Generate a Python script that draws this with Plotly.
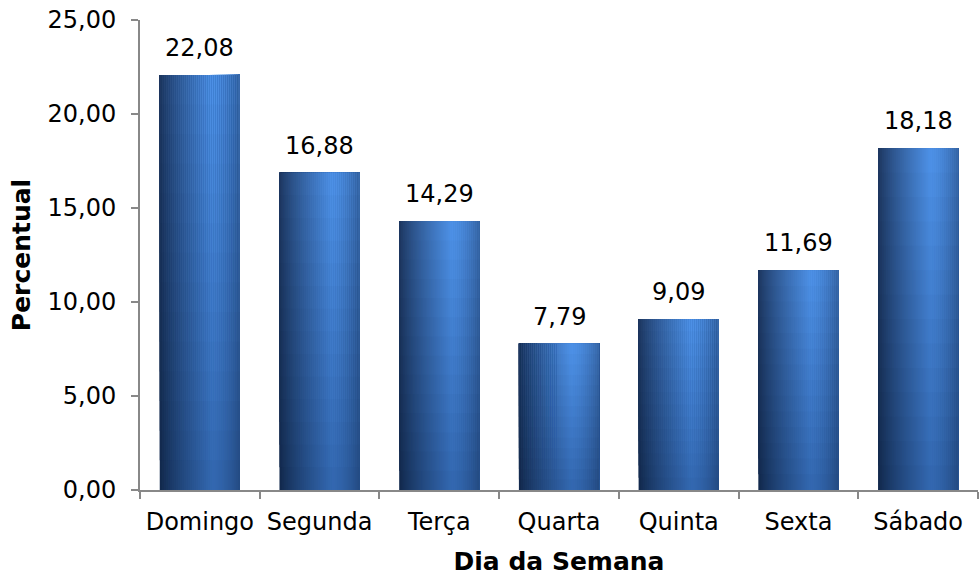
import plotly.graph_objects as go

categories = ["Domingo", "Segunda", "Terça", "Quarta", "Quinta", "Sexta", "Sábado"]
values = [22.08, 16.88, 14.29, 7.79, 9.09, 11.69, 18.18]
y_ticks = [0, 5, 10, 15, 20, 25]

FONT = "DejaVu Sans, Verdana, sans-serif"
BAR_W = 0.67
N_SLICES = 40
N_PIECES = 14


def lerp(a, b, t):
    return a + (b - a) * t


def h_profile(t):
    # brightness across the bar: dark left, bright at ~0.65, slightly dark right
    if t < 0.65:
        return lerp(0.0, 1.0, (t / 0.65) ** 0.8)
    return lerp(1.0, 0.55, ((t - 0.65) / 0.35) ** 1.6)


dark_top = (28, 52, 92)
bright_top = (78, 146, 232)
dark_bot = (16, 38, 72)
bright_bot = (50, 102, 174)


def color(t, v):
    b = h_profile(t)
    top = [lerp(dark_top[i], bright_top[i], b) for i in range(3)]
    bot = [lerp(dark_bot[i], bright_bot[i], b) for i in range(3)]
    c = [lerp(bot[i], top[i], v) for i in range(3)]
    return "rgb(%d,%d,%d)" % tuple(int(round(x)) for x in c)


fig = go.Figure()
sw = BAR_W / N_SLICES
# Each layer covers from its own left edge to the bar's right edge and from its
# own base up to the bar top; later layers paint over earlier ones, so there are
# no seams between the gradient bands.
for s in range(N_SLICES):
    t = (s + 0.5) / N_SLICES
    off = -BAR_W / 2 + s * sw
    for p in range(N_PIECES):
        v = (p + 0.5) / N_PIECES
        fig.add_trace(go.Bar(
            x=categories,
            y=[val * (1 - p / N_PIECES) for val in values],
            base=[val * p / N_PIECES for val in values],
            width=BAR_W - s * sw,
            offset=off,
            marker=dict(color=color(t, v), line=dict(width=0)),
            hoverinfo="skip",
            showlegend=False,
        ))

for c, v in zip(categories, values):
    fig.add_annotation(
        x=c, y=v, text=f"{v:.2f}".replace(".", ","),
        showarrow=False, yanchor="bottom", yshift=11,
        font=dict(family=FONT, size=24, color="black"),
    )

fig.update_layout(
    width=980, height=576,
    margin=dict(l=140, r=2, t=20, b=86),
    paper_bgcolor="white", plot_bgcolor="white",
    barmode="overlay",
    separators=",.",
    font=dict(family=FONT, size=24, color="black"),
    xaxis=dict(
        type="category",
        showline=True, linecolor="#888888", linewidth=2,
        ticks="outside", ticklen=7, tickcolor="#888888", tickwidth=2,
        tickson="boundaries",
        ticklabelstandoff=9,
        showgrid=False,
        title=dict(text="<b>Dia da Semana</b>", font=dict(family=FONT, size=25), standoff=21),
        tickfont=dict(family=FONT, size=24),
    ),
    yaxis=dict(
        range=[0, 25],
        tickvals=y_ticks,
        tickformat=".2f",
        showline=True, linecolor="#888888", linewidth=2,
        ticks="outside", ticklen=7, tickcolor="#888888", tickwidth=2,
        ticklabelstandoff=10,
        showgrid=False, zeroline=False,
        title=dict(text="<b>Percentual</b>", font=dict(family=FONT, size=25), standoff=10),
        tickfont=dict(family=FONT, size=24),
    ),
)

fig.write_html("out.html")
